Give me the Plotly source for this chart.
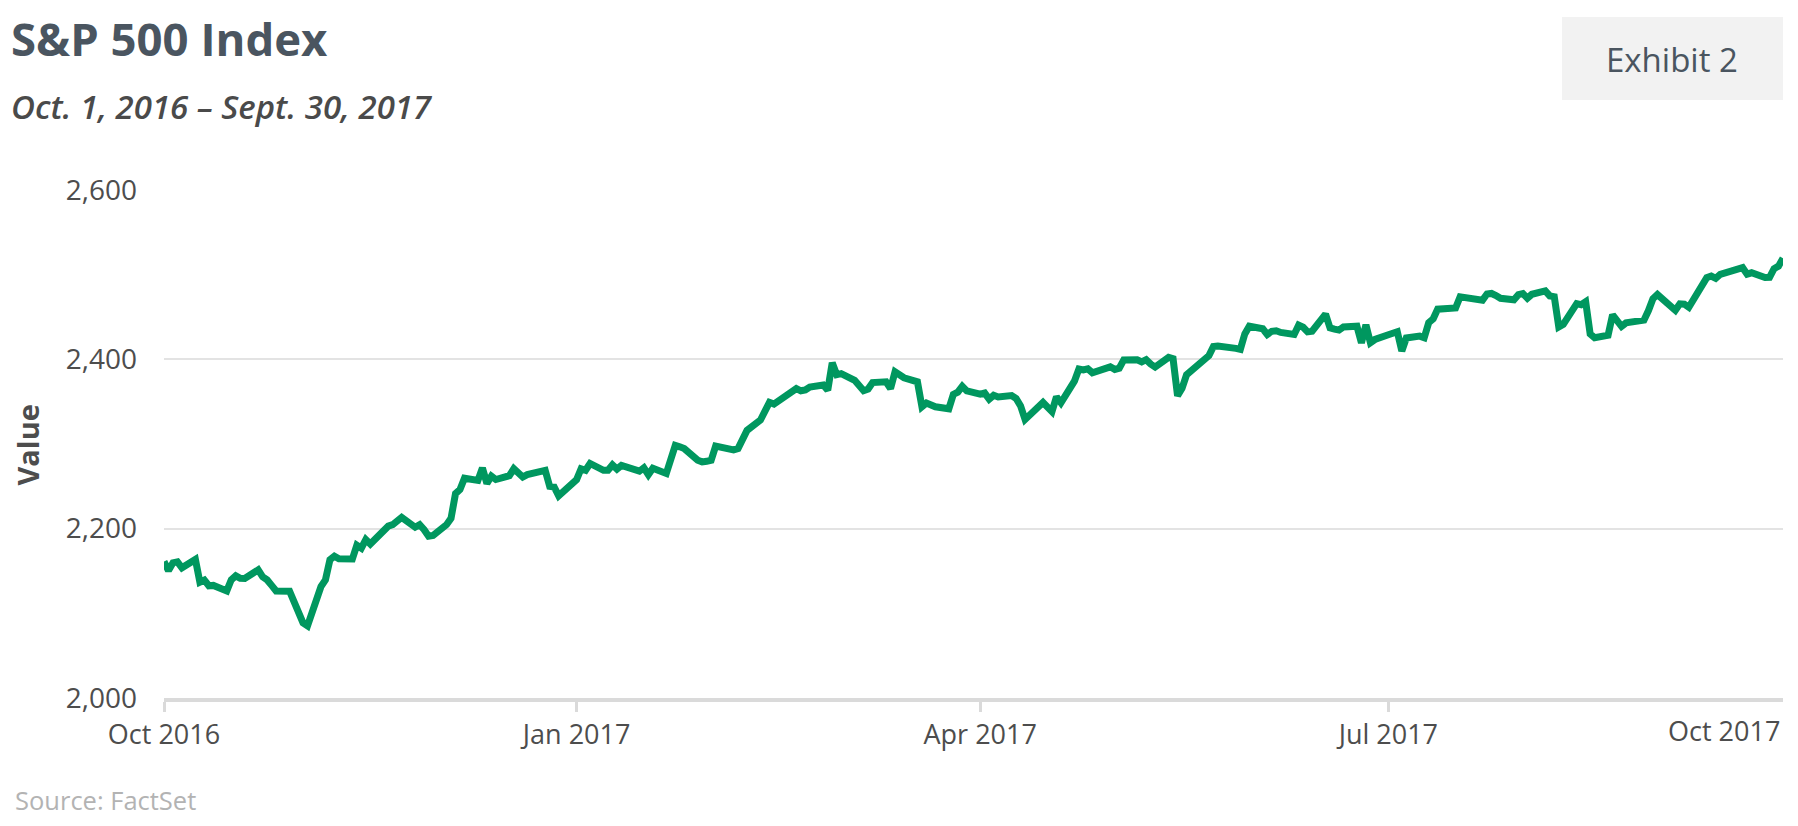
import plotly.graph_objects as go

# ---------------- data ----------------
dates = (
    ["2016-10-%02d" % d for d in [3, 4, 5, 6, 7, 10, 11, 12, 13, 14, 17, 18, 19, 20, 21, 24, 25, 26, 27, 28, 31]]
    + ["2016-11-%02d" % d for d in [1, 2, 3, 4, 7, 8, 9, 10, 11, 14, 15, 16, 17, 18, 21, 22, 23, 25, 28, 29, 30]]
    + ["2016-12-%02d" % d for d in [1, 2, 5, 6, 7, 8, 9, 12, 13, 14, 15, 16, 19, 20, 21, 22, 23, 27, 28, 29, 30]]
    + ["2017-01-%02d" % d for d in [3, 4, 5, 6, 9, 10, 11, 12, 13, 17, 18, 19, 20, 23, 24, 25, 26, 27, 30, 31]]
    + ["2017-02-%02d" % d for d in [1, 2, 3, 6, 7, 8, 9, 10, 13, 14, 15, 16, 17, 21, 22, 23, 24, 27, 28]]
    + ["2017-03-%02d" % d for d in [1, 2, 3, 6, 7, 8, 9, 10, 13, 14, 15, 16, 17, 20, 21, 22, 23, 24, 27, 28, 29, 30, 31]]
    + ["2017-04-%02d" % d for d in [3, 4, 5, 6, 7, 10, 11, 12, 13, 17, 18, 19, 20, 21, 24, 25, 26, 27, 28]]
    + ["2017-05-%02d" % d for d in [1, 2, 3, 4, 5, 8, 9, 10, 11, 12, 15, 16, 17, 18, 19, 22, 23, 24, 25, 26, 30, 31]]
    + ["2017-06-%02d" % d for d in [1, 2, 5, 6, 7, 8, 9, 12, 13, 14, 15, 16, 19, 20, 21, 22, 23, 26, 27, 28, 29, 30]]
    + ["2017-07-%02d" % d for d in [3, 5, 6, 7, 10, 11, 12, 13, 14, 17, 18, 19, 20, 21, 24, 25, 26, 27, 28, 31]]
    + ["2017-08-%02d" % d for d in [1, 2, 3, 4, 7, 8, 9, 10, 11, 14, 15, 16, 17, 18, 21, 22, 23, 24, 25, 28, 29, 30, 31]]
    + ["2017-09-%02d" % d for d in [1, 5, 6, 7, 8, 11, 12, 13, 14, 15, 18, 19, 20, 21, 22, 25, 26, 27, 28, 29]]
)

values = [
    2161.20, 2150.49, 2159.73, 2160.77, 2153.74, 2163.66, 2136.73, 2139.18, 2132.55, 2132.98, 2126.50,
    2139.60, 2144.29, 2141.34, 2141.16, 2151.33, 2143.16, 2139.43, 2133.04, 2126.41, 2126.15,
    2111.72, 2097.94, 2088.66, 2085.18, 2131.52, 2139.56, 2163.26, 2167.48, 2164.45, 2164.20, 2180.39,
    2176.94, 2187.12, 2181.90, 2198.18, 2202.94, 2204.72, 2213.35, 2201.72, 2204.66, 2198.81,
    2191.08, 2191.95, 2204.71, 2212.23, 2241.35, 2246.19, 2259.53, 2256.96, 2271.72, 2253.28, 2262.03,
    2258.07, 2262.53, 2270.76, 2265.18, 2260.96, 2263.79, 2268.88, 2249.92, 2249.26, 2238.83,
    2257.83, 2270.75, 2269.00, 2276.98, 2268.90, 2268.90, 2275.32, 2270.44, 2274.64, 2267.89,
    2271.89, 2263.69, 2271.31, 2265.20, 2280.07, 2298.37, 2296.68, 2294.69, 2280.90, 2278.87,
    2279.55, 2280.85, 2297.42, 2292.56, 2293.08, 2294.67, 2307.87, 2316.10, 2328.25, 2337.58,
    2349.25, 2347.22, 2351.16, 2365.38, 2362.82, 2363.81, 2367.34, 2369.75, 2363.64,
    2395.96, 2381.92, 2383.12, 2375.31, 2368.39, 2362.98, 2364.87, 2372.60, 2373.47, 2365.45, 2385.26,
    2381.38, 2378.25, 2373.47, 2344.02, 2348.45, 2345.96, 2343.98, 2341.59, 2358.57, 2361.13, 2368.06, 2362.72,
    2358.84, 2360.16, 2352.95, 2357.49, 2355.54, 2357.16, 2353.78, 2344.93, 2328.95, 2349.01,
    2342.19, 2338.17, 2355.84, 2348.69, 2374.15, 2388.61, 2387.45, 2388.77, 2384.20,
    2388.33, 2391.17, 2388.13, 2389.52, 2399.29, 2399.38, 2396.92, 2399.63, 2394.44, 2390.90, 2402.32,
    2400.67, 2357.03, 2365.72, 2381.73, 2394.02, 2398.42, 2404.39, 2415.07, 2415.82, 2412.91, 2411.80,
    2430.06, 2439.07, 2436.10, 2429.33, 2433.14, 2433.79, 2431.77, 2429.39, 2440.35, 2437.92, 2432.46,
    2433.15, 2453.46, 2437.03, 2435.61, 2434.50, 2438.30, 2439.07, 2419.38, 2440.69, 2419.70, 2423.41,
    2429.01, 2432.54, 2409.75, 2425.18, 2427.43, 2425.53, 2443.25, 2447.83, 2459.27, 2459.14,
    2460.61, 2473.83, 2473.45, 2472.54, 2469.91, 2477.13, 2477.83, 2475.42, 2472.10, 2470.30,
    2476.35, 2477.57, 2472.16, 2476.83, 2480.91, 2474.92, 2474.02, 2438.21, 2441.32, 2465.84, 2464.61,
    2468.11, 2430.01, 2425.55, 2428.37, 2452.51, 2444.04, 2438.97, 2443.05, 2444.24, 2446.30, 2457.59, 2471.65,
    2476.55, 2457.85, 2465.54, 2465.10, 2461.43, 2488.11, 2496.48, 2498.37, 2495.62, 2500.23,
    2503.87, 2506.65, 2508.24, 2500.60, 2502.22, 2496.66, 2496.84, 2507.04, 2510.06, 2519.36,
]

x_tick_vals = ["2016-10-03", "2017-01-03", "2017-04-03", "2017-07-03"]
x_tick_text = ["Oct 2016", "Jan 2017", "Apr 2017", "Jul 2017"]
last_tick_text = "Oct 2017"
y_tick_vals = [2000, 2200, 2400, 2600]

title_text = "S&P 500 Index"
subtitle_text = "Oct. 1, 2016 – Sept. 30, 2017"
exhibit_text = "Exhibit 2"
source_text = "Source: FactSet"
y_title = "Value"

# ---------------- layout geometry ----------------
# the page body has an 8px default margin, so the figure is drawn 8px smaller
OFF = 8
W, H = 1798 - OFF, 826 - OFF
L, R, T, B = 164 - OFF, 15, 190 - OFF, 128
PW, PH = W - L - R, H - T - B


def px(x):
    return (x - OFF - L) / PW


def py(y):
    return (H - B - (y - OFF)) / PH


LINE_GREEN = "#00975f"
TXT = "#4d4d4d"
SLATE = "#4a5560"

fig = go.Figure()
fig.add_trace(go.Scatter(
    x=dates, y=values, mode="lines",
    line=dict(color=LINE_GREEN, width=7),
    hoverinfo="x+y", showlegend=False,
))

fig.update_layout(
    width=W, height=H,
    margin=dict(l=L, r=R, t=T, b=B, pad=0),
    paper_bgcolor="white", plot_bgcolor="white",
    font=dict(family="Open Sans", color=TXT),
    xaxis=dict(
        type="date",
        range=[dates[0], dates[-1]],
        tickvals=x_tick_vals, ticktext=x_tick_text,
        showgrid=False, zeroline=False,
        showline=True, linecolor="#dadada", linewidth=4,
        ticks="outside", ticklen=10, tickwidth=3, tickcolor="#dadada",
        tickfont=dict(family="Open Sans", size=27, color=TXT),
        fixedrange=True,
    ),
    yaxis=dict(
        range=[2000, 2600],
        tickvals=y_tick_vals, tickformat=",d",
        showgrid=True, gridcolor="#e3e3e3", gridwidth=1.5,
        zeroline=False, showline=False, ticks="",
        ticklabelstandoff=26,
        tickfont=dict(family="Open Sans", size=28, color=TXT),
        fixedrange=True,
    ),
)

fig.add_shape(type="rect", xref="paper", yref="paper",
              x0=px(1562), x1=px(1783), y0=py(100), y1=py(17),
              fillcolor="#f2f2f2", line=dict(width=0), layer="below")

annos = [
    dict(text=f"<b>{title_text}</b>", x=px(9), y=py(38), xanchor="left", yanchor="middle",
         font=dict(family="Open Sans", size=45.5, color=SLATE)),
    dict(text=f"<i>{subtitle_text}</i>", x=px(9), y=py(106), xanchor="left", yanchor="middle",
         font=dict(family="Open Sans", size=33, color="#4a4a4a", weight=600)),
    dict(text=exhibit_text, x=px(1672), y=py(59), xanchor="center", yanchor="middle",
         font=dict(family="Open Sans", size=33, color=SLATE)),
    dict(text=f"<b>{y_title}</b>", x=px(6), y=py(445), xanchor="left", yanchor="middle",
         textangle=-90, borderpad=0, font=dict(family="Open Sans", size=29, color=TXT)),
    dict(text=source_text, x=px(13), y=py(800), xanchor="left", yanchor="middle",
         font=dict(family="Open Sans", size=25.5, color="#b3b3b3")),
    dict(text=last_tick_text, x=px(1782), y=py(730), xanchor="right", yanchor="middle",
         font=dict(family="Open Sans", size=27, color=TXT)),
]
for a in annos:
    fig.add_annotation(xref="paper", yref="paper", showarrow=False, **a)

fig.write_html("out.html")
